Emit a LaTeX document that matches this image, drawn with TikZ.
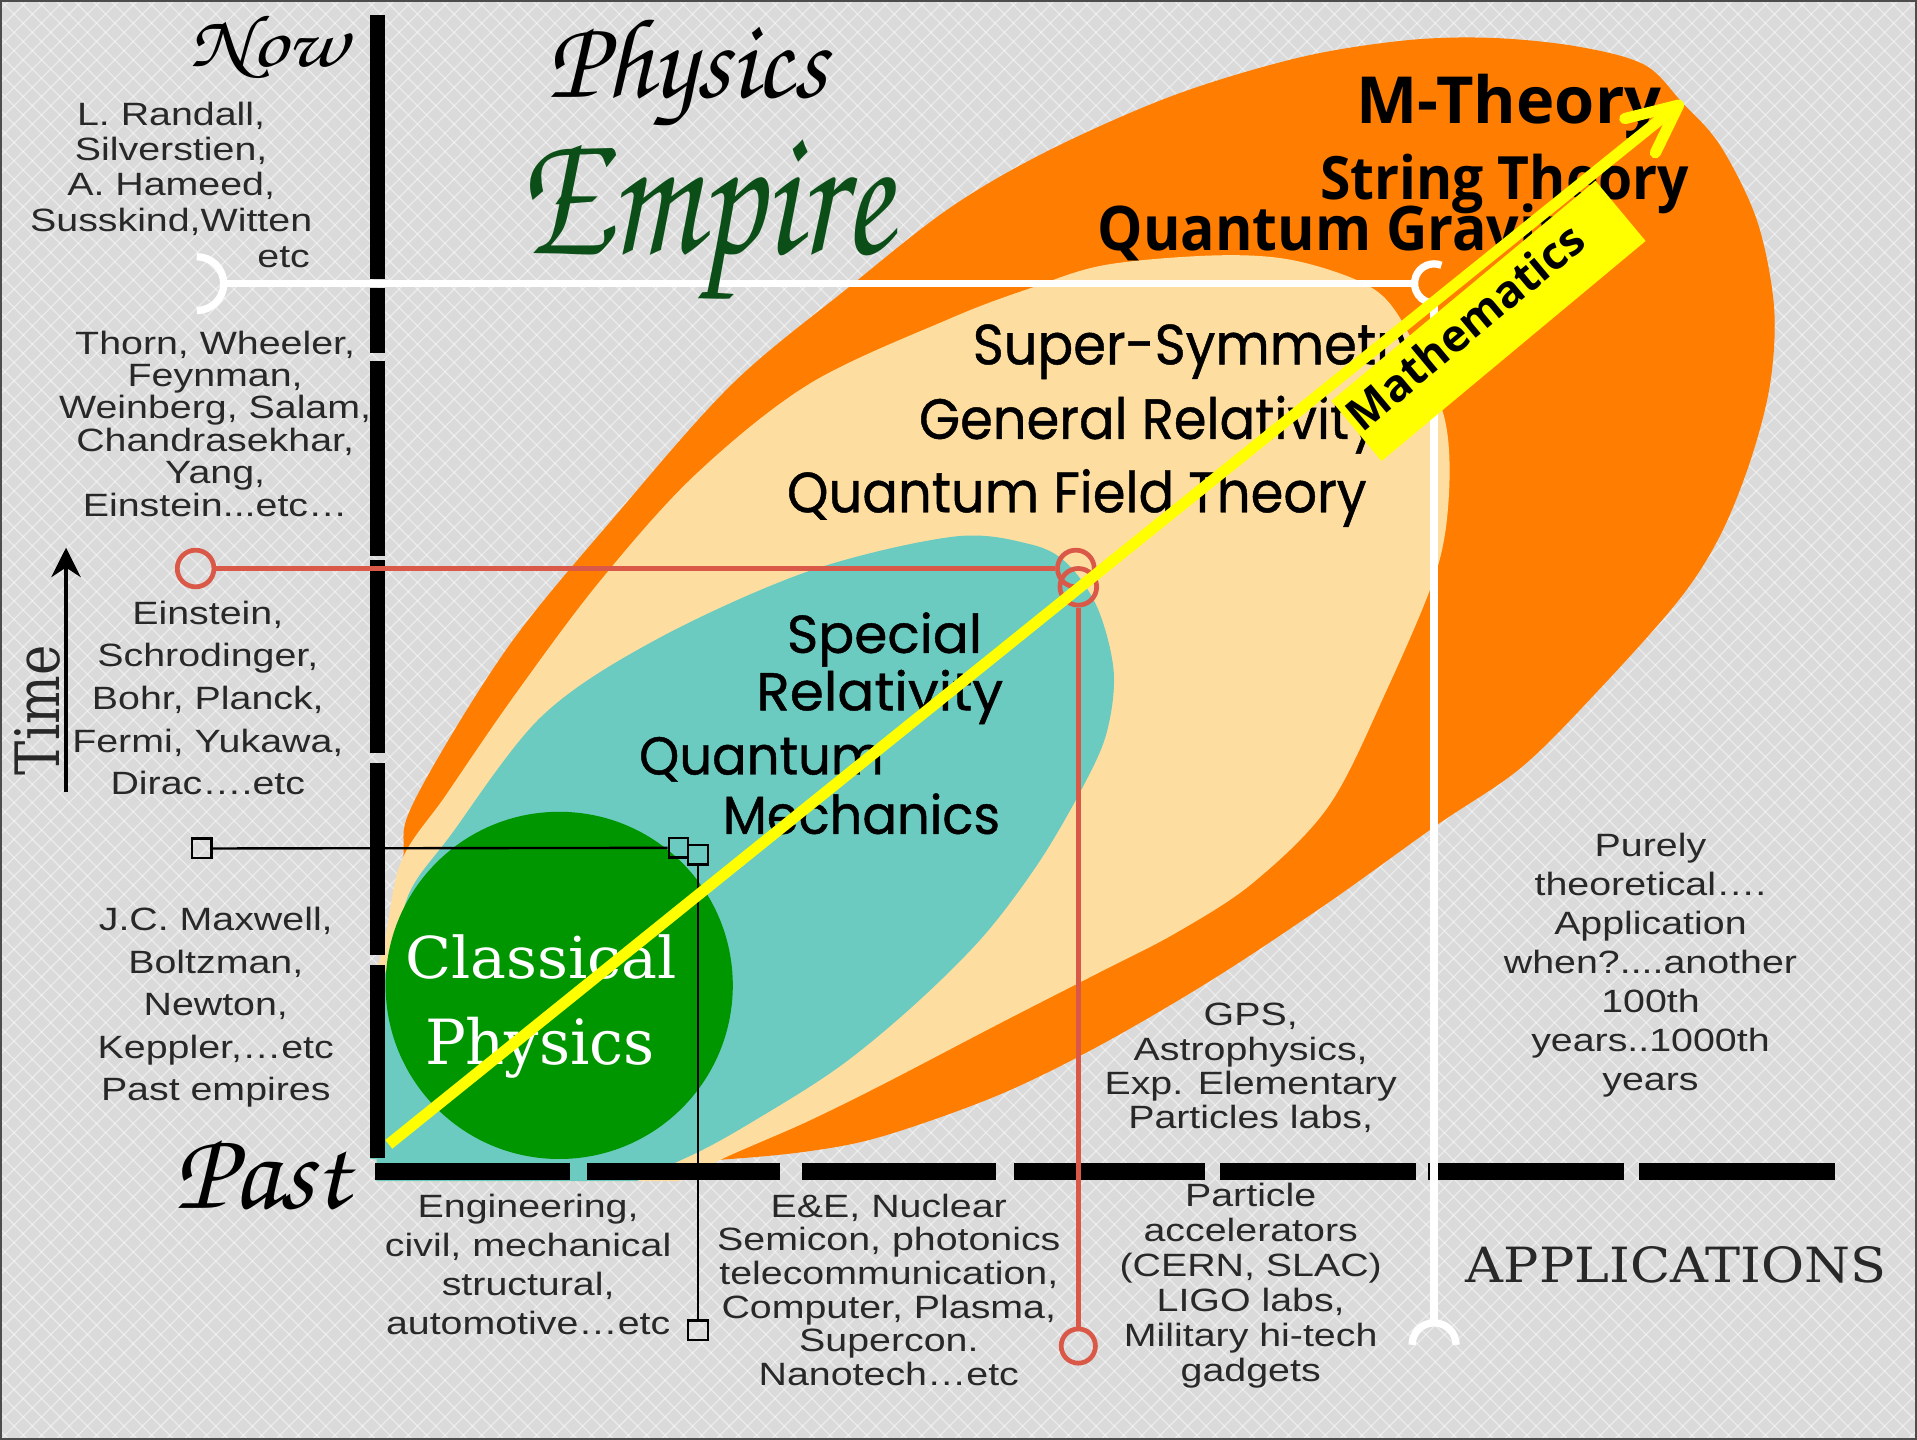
\documentclass[tikz,border=0pt]{standalone}
\usepackage[T1]{fontenc}
\usepackage{fontspec}
\usepackage{graphicx}
\usetikzlibrary{arrows.meta}
\newfontfamily\lbl[FakeStretch=1.22]{Liberation Sans}
\newfontfamily\slab{DejaVu Serif}
\newfontfamily\osans{Open Sans}
\newfontfamily\geofont[FakeBold=0.8]{Poppins}
\newcommand\scr{\fontencoding{T1}\fontfamily{pzc}\fontseries{mb}\fontshape{it}\selectfont}
\definecolor{bgc}{RGB}{218,218,218}
\definecolor{orangeC}{RGB}{255,125,0}
\definecolor{beigeC}{RGB}{254,222,160}
\definecolor{tealC}{RGB}{108,203,192}
\definecolor{greenC}{RGB}{0,150,0}
\definecolor{empireC}{RGB}{12,78,24}
\definecolor{redC}{RGB}{218,88,72}
\definecolor{txtC}{RGB}{40,40,40}
\definecolor{yellowC}{RGB}{255,255,0}
\begin{document}
\begin{tikzpicture}[x=0.01cm,y=-0.01cm,
  patline/.style={white, opacity=0.45, line width=0.3pt},
  lblk/.style={inner sep=0, align=center, text=txtC, font=\lbl\fontsize{7.5pt}{#1}\selectfont},
  osb/.style={inner sep=0, anchor=base west, font=\osans\bfseries\fontsize{#1}{#1}\selectfont},
  geo/.style={inner sep=0, anchor=base west, font=\geofont\fontsize{#1}{#1}\selectfont},
  whiteline/.style={white, line width=1.7pt},
  redline/.style={redC, line width=1.1pt},
  redcirc/.style={circle, draw=redC, line width=1.1pt, minimum size=0.3cm, inner sep=0},
  blkline/.style={black, line width=0.55pt},
  sqr/.style={rectangle, draw=black, line width=0.55pt, minimum size=0.16cm, inner sep=0},
  yline/.style={yellowC, line width=2.6pt},
  disp/.style={inner sep=0}
]
\useasboundingbox (0,0) rectangle (1568,1177.8);
% background
\fill[bgc] (0,0) rectangle (1568,1177.8);
\begin{scope}
\clip (0,0) rectangle (1568,1177.8);
\foreach \i in {-1200,-1185,...,1575} {
  \draw[patline] (\i,0) -- ++(1178,1178);
  \draw[patline] (\i+1178,0) -- ++(-1178,1178);
}
\end{scope}
% ellipses
\begin{scope}
\clip (303,0) -- (1568,0) -- (1568,966) -- (308,966) -- (308,948) -- (303,948) -- cycle;
\fill[orangeC] plot[smooth cycle, tension=0.55] coordinates {
 (330,700) (339.5,654) (415,530) (505,420) (599,314) (693,236) (777,170) (858,123)
 (960,78) (1063,47) (1150,33) (1220,31) (1290,38) (1345,53) (1376,84) (1407,119)
 (1437,180) (1451,250) (1448,313) (1432,376) (1407,438) (1373,491) (1306.6,565.5)
 (1244,628) (1175,675) (1087.5,737.6) (993.6,800) (899.7,855) (816,896) (722,929.4)
 (659,942) (584,949) (480,955) (400,940) (350,870) (333,780)};
\fill[beigeC] plot[smooth cycle, tension=0.55] coordinates {
 (285,860) (312,780) (328,705) (365,650) (420,570) (489.7,476.6) (568,389) (662,314)
 (777,260.6) (842,236) (904.7,216.6) (998.6,208.8) (1063,214) (1126,238) (1157,282)
 (1182,344) (1185,407) (1174,470) (1134,565) (1087,659) (1025,722) (962,763) (900,795)
 (816,838) (722,887) (659,918) (597,945) (520,980) (400,1000) (290,980)};
\fill[tealC] plot[smooth cycle, tension=0.55] coordinates {
 (285,850) (318,790) (335,730) (368,684) (443,586) (537,523) (662,467) (779.5,439)
 (842,445) (873,461) (898,498) (911,550) (905,600) (885,645) (850,705) (805,765)
 (750,820) (690,870) (628,910) (559,948) (450,990) (290,990)};
\fill[greenC] (457.4,806) circle[radius=142];
\end{scope}
% ellipse labels
\node[osb=15.1pt] (mth) at (1109,101) {M-Theory};
\node[osb=13.9pt] (str) at (1079,163) {\scalebox{0.923}[1]{String Theory}};
\node[osb=14.3pt] (qg) at (897,205) {\scalebox{0.93}[1]{Quantum Gravity}};
\node[geo=13.2pt] (ss) at (795,298) {\scalebox{0.93}[1]{Super-Symmetry}};
\node[geo=13.2pt] (gr) at (751,359) {\scalebox{0.93}[1]{General Relativity}};
\node[geo=13.2pt] (qft) at (643,419) {\scalebox{0.93}[1]{Quantum Field Theory}};
\node[geo=12.4pt] (sp) at (643,534) {Special};
\node[geo=12.4pt] (rel) at (618,581) {\scalebox{1.03}[1]{Relativity}};
\node[geo=12.4pt] (qu) at (522,633.5) {\scalebox{0.96}[1]{Quantum}};
\node[geo=12.4pt] (mech) at (590.5,682) {\scalebox{0.96}[1]{Mechanics}};
\node[disp, text=white] (cl1) at (442.4,783) {\resizebox*{2.22cm}{0.365cm}{\slab Classical}};
\node[disp, text=white] (cl2) at (441.7,856.7) {\resizebox*{1.88cm}{0.50cm}{\slab Physics}};
% axes
\foreach \a/\b in {12/228,235.6/288.8,295/454.7,457.8/615.9,623.7/781,789.2/947.4}
  \fill[black] (303,\a) rectangle (315,\b);
\foreach \a/\b in {307/466,480/638,656/815,829/986,998/1158,1168/1328,1341/1501}
  \fill[black] (\a,951.5) rectangle (\b,965);
% white connector
\coordinate (wl) at (183,232);
\coordinate (wr) at (1157,232);
\coordinate (wt) at (1173,248);
\coordinate (wb) at (1173,1082);
\draw[whiteline] (161,210) arc[start angle=-90, end angle=90, radius=22];
\draw[whiteline] (wl) -- (wr);
\draw[whiteline] (1179,217) arc[start angle=292, end angle=90, radius=16];
\draw[whiteline] (wt) -- (wb);
\draw[whiteline] (1155,1100) arc[start angle=180, end angle=360, radius=18];
% red connector
\node[redcirc] (rc1) at (160,465) {};
\node[redcirc] (rc2) at (880,465) {};
\node[redcirc] (rc3) at (882,480) {};
\node[redcirc, minimum size=0.28cm] (rc4) at (882,1101) {};
\draw[redline] (rc1.east) -- (rc2.west);
\draw[redline] (rc3.south) -- (rc4.north);
% black connector
\node[sqr] (sq1) at (165,694) {};
\node[sqr] (sq2) at (555,693.5) {};
\node[sqr] (sq3) at (571,699) {};
\node[sqr] (sq4) at (571,1088) {};
\draw[blkline] (sq1.east) -- (sq2.west);
\draw[blkline] (sq3.south) -- (sq4.north);
% left texts
\node[lblk=8.17pt] (b1) at (140,138) {L. Randall,\\Silverstien,\\A. Hameed,\\Susskind,Witten};
\node[lblk=8.17pt, anchor=base] (etc) at (232,219) {etc};
\node[lblk=7.54pt] (b2) at (176,346.5) {Thorn, Wheeler,\\Feynman,\\Weinberg, Salam,\\Chandrasekhar,\\Yang,\\Einstein...etc…};
\node[lblk=9.92pt] (b3) at (170,571) {Einstein,\\Schrodinger,\\Bohr, Planck,\\Fermi, Yukawa,\\Dirac….etc};
\node[lblk=9.9pt] (b4) at (176.5,824) {J.C. Maxwell,\\Boltzman,\\Newton,\\Keppler,…etc\\Past empires};
% bottom texts
\node[lblk=9.05pt] (c1) at (432,1034) {Engineering,\\civil, mechanical\\structural,\\automotive…etc};
\node[lblk=7.82pt] (c2) at (727,1055) {E\&E, Nuclear\\Semicon, photonics\\telecommunication,\\Computer, Plasma,\\Supercon.\\Nanotech…etc};
\node[lblk=8.14pt] (c3) at (1023,1052) {Particle\\accelerators\\(CERN, SLAC)\\LIGO labs,\\Military hi-tech\\gadgets};
\node[lblk=7.94pt] (c4) at (1023,873.5) {GPS,\\Astrophysics,\\Exp. Elementary\\Particles labs,};
\node[lblk=9.05pt] (c5) at (1350,789.5) {Purely\\theoretical….\\Application\\when?....another\\100th\\years..1000th\\years};
\node[disp, text=txtC] (app) at (1370.8,1034.7) {\resizebox*{3.435cm}{0.30cm}{\slab APPLICATIONS}};
% titles
\node[disp] (now) at (219,38) {\resizebox*{1.28cm}{0.54cm}{\scr Now}};
\node[disp] (past) at (214,961) {\resizebox*{1.42cm}{0.58cm}{\scr Past}};
\node[disp] (phys) at (562,60.5) {\resizebox*{2.28cm}{0.95cm}{\scr Physics}};
\node[disp, text=empireC] (emp) at (577,184.5) {\resizebox*{3.04cm}{1.39cm}{\scr Empire}};
\node[disp, rotate=90, text=txtC] (time) at (31,581) {\resizebox*{1.06cm}{0.375cm}{\slab Time}};
\coordinate (ta1) at (54,648);
\coordinate (ta2) at (54,448);
\draw[line width=0.85pt, -{Stealth[length=0.24cm,width=0.24cm]}] (ta1) -- (ta2);
% mathematics box and arrow
\node[fill=yellowC, rotate=39.8, minimum width=2.81cm, minimum height=0.64cm, inner sep=0] (mbox) at (1217.5,262.5) {};
\node[inner sep=0, rotate=39.8, font=\osans\bfseries\fontsize{10.4pt}{10.4pt}\selectfont] (mtext) at (1198,267) {Mathematics};
\coordinate (ys) at (318,936);
\coordinate (ye) at (1370,88);
\coordinate (yt) at (1373,86);
\coordinate (ya1) at (1329,97);
\coordinate (ya2) at (1354,125);
\draw[yline] (ys) -- (ye);
\draw[yline, line cap=round, line join=round] (ya1) -- (yt) -- (ya2);
% frame
\draw[line width=0.6pt, black!70] (0.5,0.5) rectangle (1567.5,1177.3);
\end{tikzpicture}
\end{document}
